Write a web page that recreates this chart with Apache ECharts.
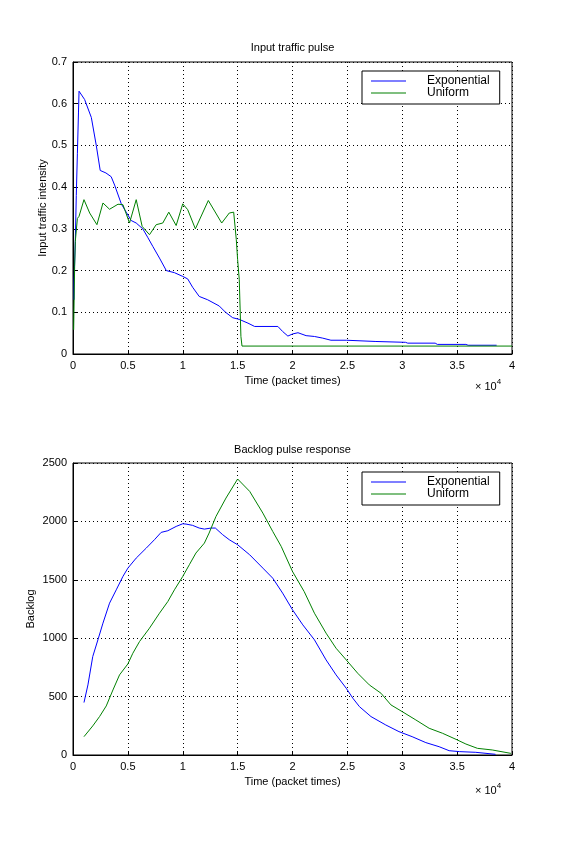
<!DOCTYPE html>
<html><head><meta charset="utf-8">
<script src="https://cdn.jsdelivr.net/npm/echarts@6/dist/echarts.min.js"></script>
<style>html,body{margin:0;padding:0;background:#fff}#c{width:567px;height:851px}</style>
</head><body><div id="c"></div>
<script>
// time in units of 10^4 packet times
const inExpT = [0.009,0.009,0.021,0.03,0.04,0.05,0.055,0.106,0.167,0.212,0.248,0.30,0.348,0.379,0.44,0.485,0.53,0.576,0.636,0.68,0.727,0.788,0.85,0.924,1.0,1.045,1.09,1.15,1.227,1.333,1.39,1.455,1.515,1.594,1.655,1.867,1.91,1.958,2.0,2.05,2.124,2.2,2.276,2.35,2.49,2.50,2.76,2.775,3.03,3.05,3.3,3.32,3.58,3.6,3.86];
const inExpV = [0.13,0.17,0.27,0.38,0.48,0.58,0.63,0.61,0.567,0.50,0.44,0.434,0.425,0.405,0.36,0.34,0.32,0.314,0.30,0.28,0.258,0.23,0.20,0.195,0.186,0.18,0.16,0.138,0.13,0.115,0.10,0.087,0.083,0.074,0.066,0.066,0.054,0.043,0.048,0.051,0.044,0.042,0.038,0.033,0.033,0.030,0.030,0.028,0.028,0.026,0.026,0.023,0.023,0.021,0.021];
const inUniT = [0.006,0.015,0.021,0.04,0.055,0.1,0.152,0.218,0.273,0.333,0.41,0.455,0.515,0.576,0.63,0.697,0.758,0.818,0.873,0.94,1.0,1.045,1.115,1.233,1.355,1.424,1.464,1.488,1.5,1.515,1.53,1.54,4.0];
const inUniV = [0.058,0.21,0.27,0.325,0.33,0.37,0.338,0.31,0.362,0.347,0.359,0.358,0.314,0.37,0.306,0.286,0.31,0.314,0.34,0.308,0.36,0.346,0.30,0.368,0.314,0.338,0.34,0.274,0.226,0.178,0.042,0.019,0.019];
const blExpT = [0.1,0.136,0.18,0.227,0.273,0.333,0.394,0.455,0.5,0.576,0.667,0.742,0.803,0.864,0.94,1.0,1.03,1.09,1.15,1.197,1.258,1.297,1.364,1.424,1.5,1.61,1.73,1.82,1.91,2.0,2.094,2.2,2.306,2.397,2.49,2.55,2.61,2.715,2.85,2.97,3.09,3.215,3.336,3.427,3.52,3.67,3.85];
const blExpV = [449,600,843,986,1129,1300,1414,1529,1600,1686,1771,1843,1906,1920,1957,1980,1977,1966,1943,1934,1943,1943,1886,1843,1800,1714,1600,1514,1386,1243,1114,986,814,686,571,486,414,329,257,200,157,106,71,37,29,23,6];
const blUniT = [0.1,0.18,0.242,0.303,0.364,0.424,0.5,0.545,0.606,0.697,0.788,0.864,0.924,1.0,1.06,1.12,1.197,1.24,1.303,1.394,1.5,1.61,1.73,1.82,1.897,2.0,2.106,2.2,2.306,2.397,2.49,2.594,2.7,2.806,2.897,3.0,3.124,3.245,3.367,3.49,3.58,3.685,3.82,3.99];
const blUniV = [157,249,329,420,557,686,780,871,971,1086,1214,1314,1414,1529,1629,1729,1814,1900,2043,2200,2363,2257,2071,1914,1786,1571,1400,1214,1043,914,814,700,600,529,429,371,300,229,186,134,94,57,43,14];
const titles = ['Input traffic pulse','Backlog pulse response'];
const yNames = ['Input traffic intensity','Backlog'];
const xName = 'Time (packet times)';
const names = ['Exponential','Uniform'];

const zip = (a,b)=>a.map((v,i)=>[v,b[i]]);
const FONT = 'Liberation Sans';
const ts = {fontFamily:FONT,fontSize:11,color:'#000'};
const chart = echarts.init(document.getElementById('c'));
const grids = [{left:73,top:62,width:439,height:292},{left:73,top:463,width:439,height:292}];
function xAx(i){return {type:'value',gridIndex:i,min:0,max:4,interval:0.5,name:xName,nameLocation:'middle',nameGap:21,nameMoveOverlap:false,nameTextStyle:ts,
  axisLabel:Object.assign({},ts,{margin:6,formatter:v=>String(v)}),axisLine:{lineStyle:{color:'#000'}},axisTick:{inside:true,length:4,lineStyle:{color:'#000'}},
  splitLine:{show:true,lineStyle:{color:'#000',type:[1,3],width:1}}};}
function yAx(i,max,iv){return {type:'value',gridIndex:i,min:0,max:max,interval:iv,name:yNames[i],nameLocation:'middle',nameGap:i===0?25:37,nameMoveOverlap:false,nameTextStyle:ts,
  axisLabel:Object.assign({},ts,{margin:6,formatter:v=>String(v)}),axisLine:{show:true,lineStyle:{color:'#000'}},axisTick:{inside:true,length:4,lineStyle:{color:'#000'}},
  splitLine:{show:true,lineStyle:{color:'#000',type:[1,3],width:1}}};}
function ser(name,i,data,color){return {type:'line',name:name,xAxisIndex:i,yAxisIndex:i,data:data,showSymbol:false,symbol:'none',
  lineStyle:{color:color,width:1},itemStyle:{color:color},animation:false};}
function leg(top){return {orient:'vertical',left:362,top:top,width:136,itemWidth:35,itemHeight:1,itemGap:0,padding:[4,10,5,9],icon:'rect',
  borderColor:'#000',borderWidth:1,backgroundColor:'#fff',textStyle:Object.assign({},ts,{fontSize:12,lineHeight:12,padding:[0,0,0,16]}),data:names,selectedMode:false};}
chart.setOption({
  animation:false,
  grid:grids.map(g=>Object.assign({show:true,borderColor:'#000',borderWidth:1,backgroundColor:'#fff'},g)),
  title:[{text:titles[0],top:42,textStyle:Object.assign({},ts,{fontWeight:'normal'}),padding:0,left:292.5,textAlign:'center'},
         {text:titles[1],top:444,textStyle:Object.assign({},ts,{fontWeight:'normal'}),padding:0,left:292.5,textAlign:'center'}],
  xAxis:[xAx(0),xAx(1)],
  yAxis:[yAx(0,0.7,0.1),yAx(1,2500,500)],
  legend:[leg(71),leg(472)],
  series:[ser(names[0],0,zip(inExpT,inExpV),'#0000ff'),ser(names[1],0,zip(inUniT,inUniV),'#008000'),
          ser(names[0],1,zip(blExpT,blExpV),'#0000ff'),ser(names[1],1,zip(blUniT,blUniV),'#008000')],
  graphic:[378,782].map(y=>({type:'text',left:475,top:y,style:{text:'{a|× 10}{b|4}',rich:{a:{fontFamily:FONT,fontSize:11,fill:'#000',verticalAlign:'bottom'},b:{fontFamily:FONT,fontSize:8,fill:'#000',verticalAlign:'top',padding:[0,0,6,0]}}}}))
});
</script></body></html>
